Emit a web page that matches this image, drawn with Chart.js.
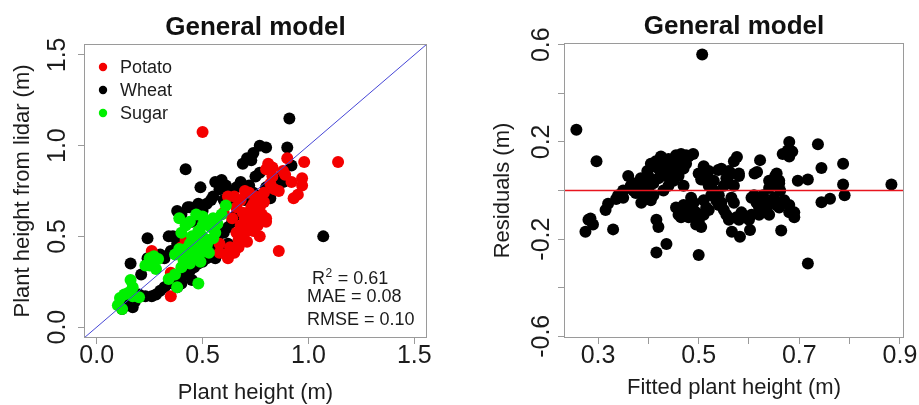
<!DOCTYPE html>
<html>
<head>
<meta charset="utf-8">
<script src="https://cdn.jsdelivr.net/npm/chart.js@4/dist/chart.umd.min.js"></script>
<style>
  html, body { margin: 0; padding: 0; background: #ffffff; }
  #wrap { position: relative; width: 919px; height: 405px; overflow: hidden; }
  #c1 { position: absolute; left: 0; top: 0; }
  #c2 { position: absolute; left: 460px; top: 0; }
</style>
</head>
<body>
<div id="wrap">
  <canvas id="c1" width="460" height="405"></canvas>
  <canvas id="c2" width="459" height="405"></canvas>
</div>
<script>
// ---------- data: left panel ----------
const seriesNames = ['Potato', 'Wheat', 'Sugar'];
const potatoX = [0.50,1.14,0.98,0.90,0.89,0.92,0.97,0.97,0.95,0.93,0.81,0.80,0.83,0.84,0.86,0.82,0.79,0.75,0.74,0.77,0.72,0.70,0.68,0.66,0.69,0.72,0.75,0.78,0.80,0.72,0.68,0.70,0.74,0.66,0.64,0.67,0.71,0.77,0.86,0.63,0.65,0.61,0.58,0.62,0.67,0.60,0.76,0.73,0.35,0.35,0.26,0.42,0.40,0.83,0.65,0.79,0.88,0.70,0.76,0.58,0.62,0.73,0.80,0.685];
const potatoY = [1.075,0.91,0.91,0.93,0.84,0.80,0.82,0.78,0.73,0.71,0.90,0.87,0.83,0.76,0.75,0.79,0.69,0.72,0.68,0.66,0.74,0.75,0.70,0.66,0.63,0.62,0.60,0.62,0.58,0.56,0.56,0.52,0.53,0.52,0.60,0.48,0.47,0.50,0.42,0.44,0.41,0.40,0.41,0.38,0.44,0.63,0.56,0.66,0.17,0.30,0.42,0.48,0.44,0.88,0.72,0.74,0.86,0.60,0.64,0.46,0.72,0.61,0.60,0.54];
const wheatX = [0.91,0.90,0.77,0.80,0.74,0.71,0.69,0.73,0.92,0.42,0.49,1.07,0.24,0.16,0.38,0.40,0.43,0.47,0.50,0.52,0.55,0.56,0.59,0.61,0.63,0.58,0.54,0.60,0.64,0.48,0.45,0.36,0.38,0.34,0.35,0.32,0.30,0.23,0.26,0.28,0.30,0.32,0.34,0.36,0.38,0.40,0.42,0.44,0.46,0.48,0.50,0.52,0.54,0.56,0.58,0.60,0.62,0.45,0.40,0.38,0.42,0.44,0.55,0.57,0.60,0.62,0.64,0.66,0.12,0.14,0.17,0.15,0.13,0.18,0.11,0.20,0.24,0.21,0.84,0.80,0.86,0.77,0.75,0.72,0.82,0.74,0.70,0.88,0.68,0.66,0.44,0.39];
const wheatY = [1.15,0.99,1.00,0.99,0.96,0.93,0.90,0.92,0.89,0.87,0.77,0.50,0.49,0.35,0.64,0.62,0.66,0.60,0.64,0.68,0.72,0.80,0.81,0.78,0.74,0.76,0.70,0.70,0.69,0.68,0.58,0.50,0.46,0.50,0.42,0.38,0.40,0.17,0.17,0.18,0.20,0.22,0.24,0.27,0.28,0.30,0.29,0.31,0.33,0.35,0.36,0.38,0.40,0.38,0.42,0.44,0.46,0.26,0.24,0.22,0.38,0.40,0.45,0.50,0.52,0.55,0.58,0.62,0.10,0.12,0.11,0.15,0.17,0.14,0.13,0.18,0.38,0.29,0.80,0.77,0.82,0.85,0.83,0.78,0.71,0.74,0.70,0.80,0.80,0.77,0.66,0.47];
const sugarX = [0.48,0.10,0.12,0.11,0.13,0.15,0.17,0.16,0.17,0.20,0.23,0.25,0.26,0.27,0.29,0.28,0.25,0.34,0.38,0.37,0.40,0.41,0.43,0.44,0.42,0.44,0.46,0.45,0.47,0.48,0.49,0.50,0.51,0.52,0.53,0.50,0.52,0.54,0.56,0.48,0.46,0.44,0.42,0.47,0.50,0.55,0.57,0.59,0.61,0.55,0.53,0.49,0.39,0.37,0.39,0.40];
const sugarY = [0.24,0.12,0.10,0.16,0.18,0.19,0.17,0.26,0.22,0.165,0.34,0.38,0.36,0.39,0.375,0.32,0.34,0.265,0.22,0.29,0.33,0.37,0.40,0.35,0.43,0.46,0.44,0.50,0.48,0.53,0.46,0.50,0.42,0.45,0.48,0.56,0.58,0.55,0.52,0.40,0.38,0.58,0.56,0.62,0.61,0.60,0.57,0.62,0.67,0.49,0.41,0.36,0.43,0.40,0.60,0.52];
const statLines = ['R\u00B2 = 0.61', 'MAE = 0.08', 'RMSE = 0.10'];
const leftRange = [-0.06, 1.56];
const leftTicks = [0, 0.5, 1.0, 1.5];
const leftTickLabels = ['0.0', '0.5', '1.0', '1.5'];

// ---------- data: right panel ----------
const fittedX = [0.507,0.257,0.297,0.275,0.281,0.290,0.285,0.330,0.315,0.320,0.336,0.350,0.360,0.370,0.376,0.383,0.386,0.390,0.395,0.400,0.405,0.398,0.410,0.415,0.420,0.425,0.430,0.435,0.440,0.445,0.450,0.455,0.460,0.465,0.470,0.475,0.480,0.489,0.410,0.420,0.430,0.440,0.450,0.380,0.385,0.375,0.395,0.410,0.416,0.420,0.416,0.436,0.500,0.455,0.460,0.465,0.470,0.480,0.490,0.495,0.500,0.500,0.505,0.510,0.500,0.505,0.510,0.515,0.520,0.525,0.530,0.535,0.540,0.545,0.550,0.555,0.560,0.565,0.570,0.575,0.580,0.585,0.576,0.566,0.582,0.602,0.611,0.622,0.605,0.605,0.615,0.620,0.628,0.635,0.640,0.645,0.650,0.655,0.660,0.662,0.664,0.667,0.677,0.680,0.686,0.680,0.690,0.697,0.717,0.717,0.737,0.744,0.744,0.761,0.787,0.787,0.790,0.883,0.630,0.640,0.670,0.652,0.660,0.520,0.530,0.540,0.515,0.470,0.485,0.560,0.570,0.539,0.616,0.580,
  0.400,0.405,0.420,0.425,0.435,0.445,0.455,0.460,0.470,0.475,0.440,0.380,0.390,0.370,0.365,0.350,0.340,0.510,0.520,0.515,0.525,0.545,0.555,0.560,0.580,0.475,0.465,0.480,0.495,0.505,0.625,0.635,0.645,0.655,0.660,0.670,0.680,0.690,0.640,0.620,0.600,0.610,0.680,0.550,0.530,0.565,0.570];
const residualY = [0.56,0.25,0.12,-0.17,-0.12,-0.14,-0.115,-0.16,-0.08,-0.055,-0.035,-0.03,0.06,0.03,0.015,-0.005,-0.05,0.02,0.04,0.0,-0.04,0.08,0.10,0.12,0.09,0.14,0.13,0.06,0.02,0.11,0.13,0.145,0.10,0.15,0.12,0.145,0.14,0.15,0.03,0.05,0.0,0.07,0.04,0.0,0.05,-0.01,-0.03,-0.02,-0.12,-0.15,-0.255,-0.22,-0.265,-0.07,-0.10,-0.11,-0.06,-0.08,-0.05,-0.09,-0.12,-0.13,-0.15,-0.10,0.07,0.045,0.10,0.06,0.02,-0.02,0.0,-0.04,-0.06,0.09,-0.08,0.05,0.03,-0.03,0.02,-0.11,0.06,-0.09,0.138,-0.17,-0.19,-0.163,0.07,0.125,-0.03,-0.10,-0.05,-0.07,-0.02,-0.08,0.04,0.02,-0.03,0.07,-0.07,0.0,-0.165,0.15,0.165,0.20,0.16,-0.06,-0.11,0.04,0.045,-0.30,0.19,0.093,-0.048,-0.034,0.11,0.025,-0.02,0.025,-0.04,-0.10,-0.04,0.06,0.03,0.08,0.04,-0.02,-0.07,0.02,-0.03,0.08,-0.05,0.084,0.076,0.07,
  0.06,0.11,0.12,0.07,0.10,0.08,0.12,0.06,0.09,0.11,0.13,0.03,-0.01,0.0,0.02,0.0,-0.02,-0.04,-0.08,0.04,0.03,-0.05,-0.10,-0.12,-0.12,-0.10,-0.08,-0.11,-0.14,-0.10,-0.09,-0.06,-0.05,-0.06,0.04,-0.05,-0.09,-0.09,0.01,-0.10,-0.12,-0.02,0.14,0.02,-0.02,0.07,0.12];
const rightXRange = [0.2324, 0.908];
const rightYRange = [-0.607, 0.607];
const rightXTicks = [0.3, 0.4, 0.5, 0.6, 0.7, 0.8, 0.9];
const rightXTickLabels = ['0.3', '', '0.5', '', '0.7', '', '0.9'];
const rightYTicks = [-0.6, -0.4, -0.2, 0.0, 0.2, 0.4, 0.6];
const rightYTickLabels = ['-0.6', '', '-0.2', '', '0.2', '', '0.6'];
const titleText = 'General model';

// ---------- helpers ----------
const FONT = '"Liberation Sans", Arial, Helvetica, sans-serif';
const TXT = '#1c1c1c';
const AXC = '#9a9a9a';
Chart.defaults.font.family = FONT;
const pts = (xs, ys) => xs.map((x, i) => ({ x: x, y: ys[i] }));

const framePlugin = {
  id: 'frame',
  afterDraw(chart, args, o) {
    const ctx = chart.ctx, a = chart.chartArea;
    ctx.save();
    ctx.strokeStyle = AXC; ctx.lineWidth = 1;
    ctx.strokeRect(Math.round(a.left) + 0.5, Math.round(a.top) + 0.5,
      Math.round(a.right - a.left) - 1, Math.round(a.bottom - a.top) - 1);
    // rotated y tick labels (R style)
    const ys = chart.scales.y;
    ctx.fillStyle = TXT;
    ctx.font = '25px ' + FONT;
    ctx.textAlign = 'center';
    ctx.textBaseline = 'middle';
    o.yTicks.forEach((v, i) => {
      const lab = o.yLabels[i];
      if (!lab) return;
      ctx.save();
      ctx.translate(o.yLabelX, ys.getPixelForValue(v));
      ctx.rotate(-Math.PI / 2);
      ctx.fillText(lab, 0, 0);
      ctx.restore();
    });
    ctx.restore();
  }
};

const insetPlugin = {
  id: 'inset',
  afterDraw(chart, args, o) {
    if (!o.on) return;
    const ctx = chart.ctx;
    ctx.save();
    ctx.font = '18px ' + FONT;
    ctx.textBaseline = 'alphabetic';
    ctx.textAlign = 'left';
    // legend
    const ds = chart.data.datasets.filter(d => seriesNames.includes(d.label));
    seriesNames.forEach((name, i) => {
      const d = ds.find(q => q.label === name);
      const cy = 67 + i * 23;
      ctx.fillStyle = d.backgroundColor;
      ctx.beginPath(); ctx.arc(103, cy, 4.2, 0, Math.PI * 2); ctx.fill();
      ctx.fillStyle = TXT;
      ctx.fillText(name, 120, cy + 6.4);
    });
    // statistics
    ctx.fillStyle = TXT;
    const sx = [312, 307, 307], sy = [283.5, 301.5, 324.5];
    statLines.forEach((s, i) => {
      if (s.indexOf('\u00B2') > 0) {
        const parts = s.split('\u00B2');
        ctx.font = '18px ' + FONT;
        ctx.fillText(parts[0], sx[i], sy[i]);
        let w = ctx.measureText(parts[0]).width;
        ctx.font = '12px ' + FONT;
        ctx.fillText('2', sx[i] + w + 0.5, sy[i] - 7);
        const w2 = ctx.measureText('2').width;
        ctx.font = '18px ' + FONT;
        ctx.fillText(parts[1], sx[i] + w + w2 + 1, sy[i]);
      } else {
        ctx.font = '18px ' + FONT;
        ctx.fillText(s, sx[i], sy[i]);
      }
    });
    ctx.restore();
  }
};

function axisCommon(ticksArr, labelsArr, fitProp, fitVal, extra) {
  return Object.assign({
    type: 'linear',
    border: { display: false },
    grid: { drawOnChartArea: false, drawTicks: true, tickLength: 6, color: AXC, lineWidth: 1 },
    afterBuildTicks: s => { s.ticks = ticksArr.map(v => ({ value: v })); },
    afterFit: s => { s[fitProp] = fitVal; }
  }, extra);
}

function titleOpts(padTop, padBottom) {
  return {
    display: true, text: titleText, color: '#111', fullSize: false,
    font: { family: FONT, size: 26, weight: 'bold', lineHeight: 1.2 },
    padding: { top: padTop, bottom: padBottom }
  };
}

// ---------- left chart ----------
new Chart(document.getElementById('c1'), {
  type: 'scatter',
  data: {
    datasets: [
      { type: 'line', label: '1:1', data: pts(leftRange, leftRange), borderColor: '#4646d6', borderWidth: 1,
        pointRadius: 0, fill: false, order: 0 },
      { label: 'Sugar', data: pts(sugarX, sugarY), backgroundColor: '#00f000', borderWidth: 0, pointRadius: 6, order: 1 },
      { label: 'Potato', data: pts(potatoX, potatoY), backgroundColor: '#f40000', borderWidth: 0, pointRadius: 6, order: 2 },
      { label: 'Wheat', data: pts(wheatX, wheatY), backgroundColor: '#000000', borderWidth: 0, pointRadius: 6, order: 3 }
    ]
  },
  options: {
    responsive: false, animation: false, devicePixelRatio: 1,
    layout: { padding: { left: 0, right: 33, top: 0, bottom: 0 } },
    scales: {
      x: axisCommon(leftTicks, leftTickLabels, 'height', 67, {
        min: leftRange[0], max: leftRange[1], position: 'bottom',
        ticks: { autoSkip: false, maxRotation: 0, color: TXT, padding: 0,
          font: { size: 25, lineHeight: 1 },
          callback: v => { const i = leftTicks.findIndex(t => Math.abs(t - v) < 1e-9); return i >= 0 ? leftTickLabels[i] : ''; } },
        title: { display: true, text: 'Plant height (m)', color: TXT, font: { size: 22, lineHeight: 1 }, padding: { top: 0, bottom: 1 } }
      }),
      y: axisCommon(leftTicks, leftTickLabels, 'width', 84, {
        min: leftRange[0], max: leftRange[1], position: 'left',
        ticks: { display: false },
        title: { display: true, text: 'Plant height from lidar (m)', color: TXT, font: { size: 22, lineHeight: 1 }, padding: { top: 12, bottom: 0 } }
      })
    },
    plugins: {
      legend: { display: false }, tooltip: { enabled: false },
      title: titleOpts(11.8, 1),
      frame: { yTicks: leftTicks, yLabels: leftTickLabels, yLabelX: 58 },
      inset: { on: true }
    }
  },
  plugins: [framePlugin, insetPlugin]
});

// ---------- right chart ----------
new Chart(document.getElementById('c2'), {
  type: 'scatter',
  data: {
    datasets: [
      { type: 'line', label: 'zero', data: pts(rightXRange, [0, 0]), borderColor: '#e8141e', borderWidth: 1.6,
        pointRadius: 0, fill: false, order: 0 },
      { label: 'Residuals', data: pts(fittedX, residualY), backgroundColor: '#000000', borderWidth: 0, pointRadius: 6, order: 1 }
    ]
  },
  options: {
    responsive: false, animation: false, devicePixelRatio: 1,
    layout: { padding: { left: 0, right: 15, top: 0, bottom: 0 } },
    scales: {
      x: axisCommon(rightXTicks, rightXTickLabels, 'height', 67, {
        min: rightXRange[0], max: rightXRange[1], position: 'bottom',
        ticks: { autoSkip: false, maxRotation: 0, color: TXT, padding: 0,
          font: { size: 25, lineHeight: 1 },
          callback: v => { const i = rightXTicks.findIndex(t => Math.abs(t - v) < 1e-9); return i >= 0 ? rightXTickLabels[i] : ''; } },
        title: { display: true, text: 'Fitted plant height (m)', color: TXT, font: { size: 22, lineHeight: 1 }, padding: { top: 0, bottom: 6 } }
      }),
      y: axisCommon(rightYTicks, rightYTickLabels, 'width', 104, {
        min: rightYRange[0], max: rightYRange[1], position: 'left',
        ticks: { display: false },
        title: { display: true, text: 'Residuals (m)', color: TXT, font: { size: 22, lineHeight: 1 }, padding: { top: 32, bottom: 0 } }
      })
    },
    plugins: {
      legend: { display: false }, tooltip: { enabled: false },
      title: titleOpts(10.8, 1),
      frame: { yTicks: rightYTicks, yLabels: rightYTickLabels, yLabelX: 82 },
      inset: { on: false }
    }
  },
  plugins: [framePlugin, insetPlugin]
});
</script>
</body>
</html>
